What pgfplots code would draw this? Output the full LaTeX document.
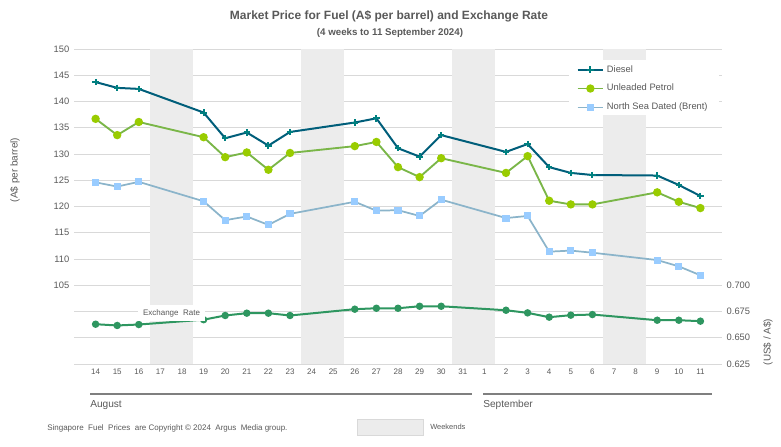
\documentclass[border=0pt]{standalone}
\usepackage{fontspec}
\setmainfont{Liberation Sans}
\usepackage{pgfplots}
\pgfplotsset{compat=1.18}
\definecolor{txt}{RGB}{89,89,89}
\definecolor{gridc}{RGB}{217,217,217}
\definecolor{wkshade}{RGB}{236,236,236}
\definecolor{dieselL}{RGB}{0,94,122}
\definecolor{dieselM}{RGB}{0,128,128}
\definecolor{ulpL}{RGB}{122,182,72}
\definecolor{ulpM}{RGB}{153,204,0}
\definecolor{brentL}{RGB}{139,180,202}
\definecolor{brentM}{RGB}{153,204,255}
\definecolor{fx}{RGB}{46,150,96}
\definecolor{monthline}{RGB}{127,127,127}
\begin{document}
\begin{tikzpicture}
\useasboundingbox (0,0) rectangle (585.75pt,-334.5pt);
% ---------- left axis (fuel prices) ----------
\begin{axis}[
  at={(55.5pt,-273pt)}, anchor=south west,
  scale only axis, width=486pt, height=236.25pt,
  xmin=-1, xmax=29, ymin=90, ymax=150,
  axis line style={draw=none},
  major tick length=0pt,
  ytick={90,95,...,150},
  yticklabels={{},{},{},105,110,115,120,125,130,135,140,145,150},
  ymajorgrids, grid style={draw=gridc, line width=0.7pt},
  xtick={0,...,28},
  xticklabels={14,15,16,17,18,19,20,21,22,23,24,25,26,27,28,29,30,31,1,2,3,4,5,6,7,8,9,10,11},
  x tick label style={font=\fontsize{6}{7}\selectfont, text=txt},
  y tick label style={font=\fontsize{7}{8}\selectfont, text=txt},
  /pgf/number format/assume math mode=true,
  legend style={at={(0.773,0.962)}, anchor=north west, draw=none, fill=none,
     font=\fontsize{7}{8.5}\selectfont, text=txt, inner sep=1pt,
     row sep=3.6pt, cells={anchor=west}},
  legend image code/.code={\draw[mark repeat=2,mark phase=2] plot coordinates {(0cm,0cm)(0.34cm,0cm)(0.68cm,0cm)};},
  legend cell align=left,
]
% weekends
\fill[wkshade] (axis cs:2.5,90) rectangle (axis cs:4.5,150);
\fill[wkshade] (axis cs:9.5,90) rectangle (axis cs:11.5,150);
\fill[wkshade] (axis cs:16.5,90) rectangle (axis cs:18.5,150);
\fill[wkshade] (axis cs:23.5,90) rectangle (axis cs:25.5,150);
% legend background
\fill[white] (axis cs:21.93,147.9) rectangle (axis cs:28.84,137.4);

\addplot[dieselL, line width=1.5pt, mark=+, mark size=2.4pt,
  mark options={dieselM, line width=1.5pt}] coordinates {
 (0,143.7) (1,142.6) (2,142.4) (5,137.9) (6,133.0) (7,134.1) (8,131.6) (9,134.2)
 (12,136.0) (13,136.8) (14,131.1) (15,129.5) (16,133.6)
 (19,130.4) (20,131.9) (21,127.5) (22,126.4) (23,126.0)
 (26,125.9) (27,124.1) (28,122.0)};
\addlegendentry{Diesel}
\addplot[ulpL, line width=1.4pt, mark=*, mark size=2.4pt,
  mark options={draw=ulpM, fill=ulpM}] coordinates {
 (0,136.7) (1,133.6) (2,136.1) (5,133.2) (6,129.4) (7,130.3) (8,127.0) (9,130.2)
 (12,131.5) (13,132.3) (14,127.5) (15,125.6) (16,129.2)
 (19,126.4) (20,129.6) (21,121.1) (22,120.4) (23,120.4)
 (26,122.7) (27,120.9) (28,119.7)};
\addlegendentry{Unleaded Petrol}
\addplot[brentL, line width=1.3pt, mark=square*, mark size=2pt,
  mark options={draw=brentM, fill=brentM}] coordinates {
 (0,124.6) (1,123.8) (2,124.7) (5,121.0) (6,117.4) (7,118.1) (8,116.5) (9,118.6)
 (12,120.9) (13,119.2) (14,119.3) (15,118.2) (16,121.3)
 (19,117.8) (20,118.2) (21,111.4) (22,111.6) (23,111.2)
 (26,109.8) (27,108.6) (28,106.9)};
\addlegendentry{North Sea Dated (Brent)}
\end{axis}
% ---------- right axis (exchange rate) ----------
\begin{axis}[
  at={(55.5pt,-273pt)}, anchor=south west,
  scale only axis, width=486pt, height=236.25pt,
  xmin=-1, xmax=29, ymin=0.625, ymax=0.925,
  axis line style={draw=none},
  major tick length=0pt,
  axis y line*=right, axis x line=none,
  ytick={0.625,0.65,0.675,0.7},
  yticklabel style={font=\fontsize{7}{8}\selectfont, text=txt,
    /pgf/number format/.cd, fixed, fixed zerofill, precision=3, assume math mode=true},
]
\addplot[fx, line width=1.5pt, mark=*, mark size=2pt,
  mark options={draw=fx, fill=fx}] coordinates {
 (0,0.6629) (1,0.6617) (2,0.6626) (5,0.6672) (6,0.6712) (7,0.6734) (8,0.6734) (9,0.6712)
 (12,0.6772) (13,0.6781) (14,0.6781) (15,0.6800) (16,0.6800)
 (19,0.6762) (20,0.6737) (21,0.6696) (22,0.6715) (23,0.6721)
 (26,0.6667) (27,0.6667) (28,0.6658)};
\end{axis}
% ---------- annotations in pixel coordinates ----------
\begin{scope}[x=0.75pt, y=-0.75pt]
\node[fill=white, inner sep=0pt, minimum width=50pt, minimum height=12.5pt,
  font=\fontsize{6}{7}\selectfont, text=txt] at (171.5,313) {Exchange\ \ Rate};
\node[font=\bfseries\fontsize{9}{11}\selectfont, text=txt] at (389,16) {Market Price for Fuel (A\$ per barrel) and Exchange Rate};
\node[font=\bfseries\fontsize{7.3}{9}\selectfont, text=txt] at (390,33) {(4 weeks to 11 September 2024)};
\node[rotate=90, font=\fontsize{7.5}{9}\selectfont, text=txt] at (15,170) {(A\$ per barrel)};
\node[rotate=90, font=\fontsize{7.4}{9}\selectfont, text=txt] at (768,342) {(US\$ / A\$)};
\draw[monthline, line width=0.8pt] (90,394) -- (472,394);
\draw[monthline, line width=0.8pt] (483,394) -- (712,394);
\node[anchor=west, inner sep=0pt, font=\fontsize{7.6}{9}\selectfont, text=txt] at (90,405) {August};
\node[anchor=west, inner sep=0pt, font=\fontsize{7.6}{9}\selectfont, text=txt] at (483,405) {September};
\node[anchor=west, inner sep=0pt, font=\fontsize{6}{7}\selectfont, text=txt] at (47,428) {Singapore\ \ Fuel\ \ Prices\ \ are Copyright \textcopyright{} 2024\ \ Argus\ \ Media group.};
\filldraw[fill=wkshade, draw=gridc, line width=0.6pt] (357,419) rectangle (423,435);
\node[anchor=west, inner sep=0pt, font=\fontsize{5.6}{7}\selectfont, text=txt] at (430,427) {Weekends};
\end{scope}
\end{tikzpicture}
\end{document}
